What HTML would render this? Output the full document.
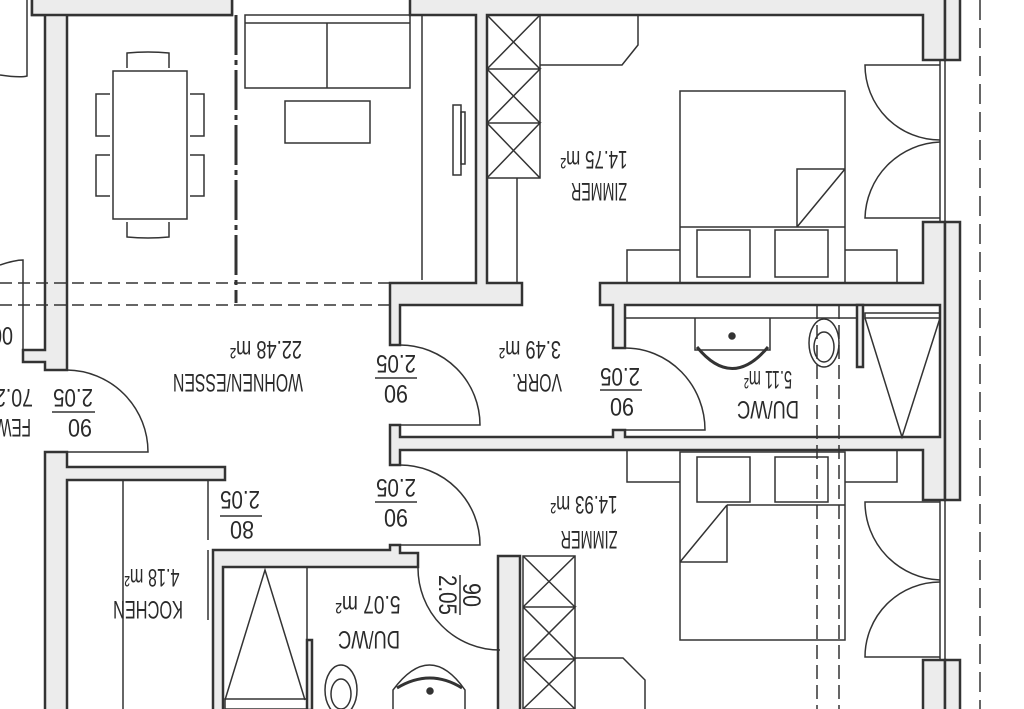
<!DOCTYPE html>
<html><head><meta charset="utf-8"><style>
html,body{margin:0;padding:0;background:#fff;}
svg{display:block}
text{font-family:"Liberation Sans Narrow","Liberation Sans",sans-serif;fill:#2a2a2a;}
</style></head><body>
<svg width="1024" height="709" viewBox="0 0 1024 709" xmlns="http://www.w3.org/2000/svg">
<rect width="1024" height="709" fill="#fff"/>
<g fill="#ececec" stroke="#333" stroke-width="2.5" stroke-linejoin="miter">
<polygon points="32,0 32,15 45,15 45,350 23,350 23,362 45,362 45,370 67,370 67,15 232,15 232,0 220,0 220,0"/>
<rect x="32" y="-2" width="200" height="17"/>
<polygon points="45,452 67,452 67,467 225,467 225,480 67,480 67,711 45,711"/>
<polygon points="410,-2 410,15 476,15 476,283 390,283 390,345 400,345 400,305 522,305 522,283 487,283 487,15 923,15 923,60 945,60 945,-2"/>
<rect x="945" y="-2" width="15" height="62"/>
<polygon points="923,222 945,222 945,500 923,500 923,450 400,450 400,465 390,465 390,425 400,425 400,437 613,437 613,430 625,430 625,437 940,437 940,305 625,305 625,348 613,348 613,305 600,305 600,283 923,283"/>
<rect x="945" y="222" width="15" height="278"/>
<polygon points="923,660 945,660 945,711 923,711"/>
<rect x="945" y="660" width="15" height="51"/>
<polygon points="213,550 390,550 390,545 400,545 400,553 418,553 418,567 223,567 223,711 213,711"/>
<polygon points="498,556 520,556 520,711 498,711"/>
<rect x="857" y="305" width="6" height="62"/>
<rect x="307" y="640" width="5" height="70"/>
</g>
<g fill="none" stroke="#333" stroke-width="1.5">
<line x1="0" y1="283" x2="390" y2="283" stroke-dasharray="12,6"/>
<line x1="0" y1="305" x2="390" y2="305" stroke-dasharray="12,6"/>
<line x1="236" y1="15" x2="236" y2="303" stroke-width="3" stroke-dasharray="40,5,5,5"/>
<line x1="817" y1="305" x2="817" y2="709" stroke-dasharray="14,6"/>
<line x1="839" y1="305" x2="839" y2="709" stroke-dasharray="14,6"/>
<line x1="980" y1="0" x2="980" y2="709" stroke-dasharray="20,8"/>
<path d="M0,75 Q20,78 27,76 L27,0"/>
<path d="M0,265 Q15,260 23,260 L23,350"/>
<rect x="113" y="71" width="74" height="148"/>
<path d="M127,68 V53 Q148,51 169,53 V68"/>
<path d="M127,222 V237 Q148,239 169,237 V222"/>
<path d="M110,94 H96 V136 H110 M110,155 H96 V196 H110"/>
<path d="M190,94 H204 V136 H190 M190,155 H204 V196 H190"/>
<rect x="245" y="15" width="165" height="73"/>
<line x1="245" y1="23" x2="410" y2="23"/>
<line x1="327" y1="23" x2="327" y2="88"/>
<rect x="285" y="101" width="85" height="42"/>
<line x1="422" y1="15" x2="422" y2="280"/>
<rect x="453" y="105" width="8" height="70"/><rect x="461" y="112" width="4" height="52"/>
<rect x="487" y="15" width="53" height="163"/>
<path d="M487,15 L540,69 M540,15 L487,69 M487,69 H540 L487,123 M487,69 L540,123 M487,123 H540 L487,178 M487,123 L540,178"/>
<line x1="517" y1="178" x2="517" y2="283"/>
<path d="M540,65 H622 L638,45 V15"/>
<rect x="680" y="91" width="165" height="192"/>
<line x1="680" y1="227" x2="845" y2="227"/>
<path d="M797,227 V169 H845 M797,227 L845,169"/>
<rect x="697" y="230" width="53" height="47"/><rect x="775" y="230" width="53" height="47"/>
<path d="M627,283 V250 H680 M845,250 H897 V283"/>
<path d="M940,60 V222 M945,60 V222"/>
<path d="M940,65 H865 A75,75 0 0 0 940,140 M940,218 H865 A78,78 0 0 1 940,142"/>
<line x1="625" y1="318" x2="857" y2="318"/>
<path d="M695,318 V350 H770 V318"/>
<path d="M697,347 Q732,390 768,347" stroke-width="3"/>
<circle cx="732" cy="336" r="3" fill="#333"/>
<ellipse cx="824" cy="343" rx="15" ry="24"/><ellipse cx="824" cy="347" rx="10" ry="15"/>
<rect x="865" y="313" width="75" height="5"/>
<path d="M865,318 L902,437 L940,318"/>
<path d="M625,348 A80,82 0 0 1 705,430 H625"/>
<path d="M400,345 A80,80 0 0 1 480,425 H400"/>
<path d="M400,465 A80,80 0 0 1 480,545 H400" />
<path d="M67,370 A82,82 0 0 1 148,452 H67"/>
<line x1="123" y1="480" x2="123" y2="709"/>
<line x1="208" y1="480" x2="208" y2="540"/>
<line x1="208" y1="550" x2="208" y2="620"/>
<path d="M225,700 L265,570 L305,700"/>
<rect x="225" y="699" width="82" height="10"/>
<line x1="307" y1="567" x2="307" y2="640"/>
<ellipse cx="341" cy="690" rx="16" ry="25"/><ellipse cx="341" cy="694" rx="10" ry="15"/>
<path d="M393,709 V690 Q430,640 465,690 V709"/>
<path d="M397,688 Q430,668 462,688" stroke-width="3"/>
<circle cx="430" cy="691" r="3" fill="#333"/>
<path d="M418,567 A82,82 0 0 0 500,650"/>
<rect x="523" y="556" width="52" height="153"/>
<path d="M523,556 L575,607 M575,556 L523,607 M523,607 H575 L523,659 M523,607 L575,659 M523,659 H575 L523,709 M523,659 L575,709"/>
<path d="M575,658 H623 L645,680 V709"/>
<rect x="680" y="452" width="165" height="188"/>
<line x1="727" y1="505" x2="845" y2="505"/>
<path d="M727,505 V562 H680 M727,505 L680,562"/>
<rect x="697" y="457" width="53" height="45"/><rect x="775" y="457" width="53" height="45"/>
<path d="M627,450 V482 H680 M845,482 H897 V450"/>
<path d="M940,500 V660 M945,500 V660"/>
<path d="M940,502 H865 A78,78 0 0 0 940,580 M940,657 H865 A75,75 0 0 1 940,582"/>
<line x1="52" y1="412" x2="95" y2="412"/>
<line x1="375" y1="378" x2="417" y2="378"/>
<line x1="375" y1="502" x2="417" y2="502"/>
<line x1="220" y1="516" x2="262" y2="516"/>
<line x1="600" y1="390" x2="642" y2="390"/>
<line x1="460" y1="575" x2="460" y2="615"/>
</g>
<g font-size="25" text-anchor="middle">
<text transform="rotate(180 238 383)" x="238" y="392" textLength="130" lengthAdjust="spacingAndGlyphs">WOHNEN/ESSEN</text>
<text transform="rotate(180 266 350)" x="266" y="359" textLength="72" lengthAdjust="spacingAndGlyphs">22.48 m²</text>
<text transform="rotate(180 537 383)" x="537" y="392" textLength="50" lengthAdjust="spacingAndGlyphs">VORR.</text>
<text transform="rotate(180 530 350)" x="530" y="359" textLength="62" lengthAdjust="spacingAndGlyphs">3.49 m²</text>
<text transform="rotate(180 599 192)" x="599" y="201" textLength="56" lengthAdjust="spacingAndGlyphs">ZIMMER</text>
<text transform="rotate(180 594 160)" x="594" y="169" textLength="67" lengthAdjust="spacingAndGlyphs">14.75 m²</text>
<text transform="rotate(180 768 410)" x="768" y="419" textLength="62" lengthAdjust="spacingAndGlyphs">DU/WC</text>
<text transform="rotate(180 768 380)" x="768" y="389" textLength="48" lengthAdjust="spacingAndGlyphs">5.11 m²</text>
<text transform="rotate(180 589 540)" x="589" y="549" textLength="57" lengthAdjust="spacingAndGlyphs">ZIMMER</text>
<text transform="rotate(180 584 505)" x="584" y="514" textLength="67" lengthAdjust="spacingAndGlyphs">14.93 m²</text>
<text transform="rotate(180 148 610)" x="148" y="619" textLength="70" lengthAdjust="spacingAndGlyphs">KOCHEN</text>
<text transform="rotate(180 152 578)" x="152" y="587" textLength="55" lengthAdjust="spacingAndGlyphs">4.18 m²</text>
<text transform="rotate(180 369 640)" x="369" y="649" textLength="62" lengthAdjust="spacingAndGlyphs">DU/WC</text>
<text transform="rotate(180 368 605)" x="368" y="614" textLength="65" lengthAdjust="spacingAndGlyphs">5.07 m²</text>
<text transform="rotate(180 73 398)" x="73" y="407" textLength="40" lengthAdjust="spacingAndGlyphs">2.05</text>
<text transform="rotate(180 80 428)" x="80" y="437" textLength="24" lengthAdjust="spacingAndGlyphs">90</text>
<text transform="rotate(180 396 364)" x="396" y="373" textLength="40" lengthAdjust="spacingAndGlyphs">2.05</text>
<text transform="rotate(180 396 394)" x="396" y="403" textLength="24" lengthAdjust="spacingAndGlyphs">90</text>
<text transform="rotate(180 396 488)" x="396" y="497" textLength="40" lengthAdjust="spacingAndGlyphs">2.05</text>
<text transform="rotate(180 396 518)" x="396" y="527" textLength="24" lengthAdjust="spacingAndGlyphs">90</text>
<text transform="rotate(180 240 500)" x="240" y="509" textLength="40" lengthAdjust="spacingAndGlyphs">2.05</text>
<text transform="rotate(180 242 530)" x="242" y="539" textLength="24" lengthAdjust="spacingAndGlyphs">80</text>
<text transform="rotate(180 620 377)" x="620" y="386" textLength="40" lengthAdjust="spacingAndGlyphs">2.05</text>
<text transform="rotate(180 622 407)" x="622" y="416" textLength="24" lengthAdjust="spacingAndGlyphs">90</text>
<text transform="rotate(90 448 595)" x="448" y="604" textLength="40" lengthAdjust="spacingAndGlyphs">2.05</text>
<text transform="rotate(90 472 595)" x="472" y="604" textLength="24" lengthAdjust="spacingAndGlyphs">90</text>
<text transform="rotate(180 14 428)" x="14" y="437" textLength="34" lengthAdjust="spacingAndGlyphs">FEW</text>
<text transform="rotate(180 14 398)" x="14" y="407" textLength="38" lengthAdjust="spacingAndGlyphs">70.2</text>
<text transform="rotate(180 2 336)" x="2" y="345" textLength="22" lengthAdjust="spacingAndGlyphs">00</text>
</g>
</svg>
</body></html>
